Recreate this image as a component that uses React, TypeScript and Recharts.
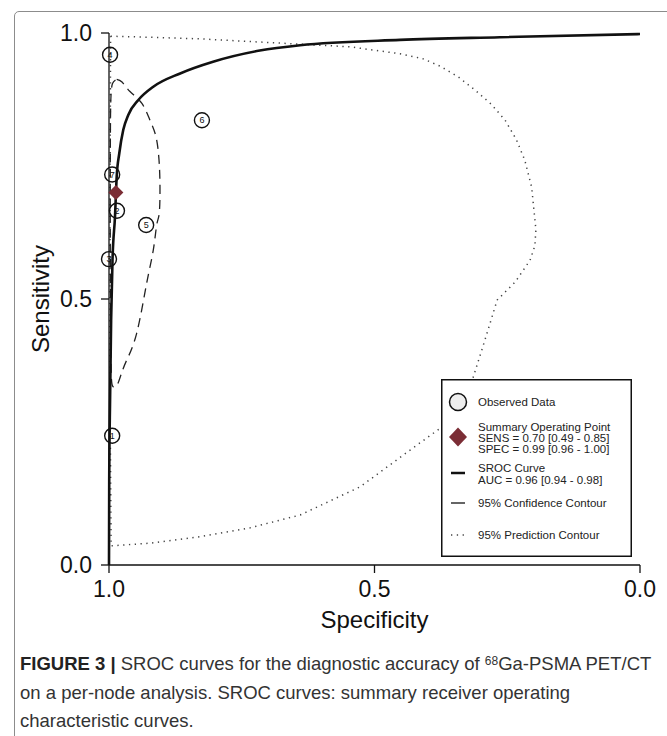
import React from 'react';
import { ComposedChart, XAxis, YAxis, Line, Scatter, Legend } from 'recharts';

const FONT = '"Liberation Sans", Arial, Helvetica, sans-serif';

// observed studies
const studyIds = [1, 2, 3, 4, 5, 6, 7];
const studySpec = [0.994, 0.985, 1.0, 0.998, 0.93, 0.825, 0.994];
const studySens = [0.243, 0.666, 0.575, 0.959, 0.639, 0.836, 0.734];

// summary operating point
const summarySpec = [0.987];
const summarySens = [0.7];

// SROC curve
const srocSpec = [1.0, 0.9996, 0.998, 0.996, 0.9934, 0.9887, 0.9855, 0.9806, 0.9731, 0.9637, 0.9448, 0.9166, 0.866, 0.804, 0.716, 0.64, 0.452, 0.264, 0.0];
const srocSens = [0.0, 0.16, 0.31, 0.46, 0.573, 0.655, 0.73, 0.774, 0.818, 0.846, 0.874, 0.899, 0.924, 0.946, 0.967, 0.977, 0.987, 0.992, 0.998];

// 95% confidence contour
const confSpec = [0.9855, 0.9755, 0.9605, 0.9384, 0.9228, 0.9115, 0.9058, 0.904, 0.9053, 0.91, 0.9166, 0.929, 0.9478, 0.9667, 0.9776, 0.9849, 0.9919, 0.9953, 0.9966, 0.9972, 0.9976, 0.9976, 0.9972, 0.9962, 0.9934, 0.9855];
const confSens = [0.913, 0.908, 0.89, 0.868, 0.836, 0.805, 0.761, 0.711, 0.662, 0.64, 0.592, 0.53, 0.436, 0.385, 0.357, 0.338, 0.335, 0.348, 0.404, 0.498, 0.611, 0.724, 0.836, 0.883, 0.905, 0.913];

// 95% prediction contour
const predSpec = [0.997, 0.923, 0.829, 0.716, 0.64, 0.546, 0.452, 0.41, 0.377, 0.343, 0.311, 0.28, 0.254, 0.233, 0.217, 0.204, 0.196, 0.198, 0.207, 0.235, 0.269, 0.292, 0.315, 0.335, 0.358, 0.375, 0.433, 0.527, 0.64, 0.734, 0.829, 0.923, 0.996, 0.998, 0.998, 0.997];
const predSens = [0.994, 0.992, 0.989, 0.983, 0.979, 0.974, 0.961, 0.952, 0.938, 0.918, 0.893, 0.866, 0.836, 0.8, 0.761, 0.71, 0.63, 0.6, 0.573, 0.532, 0.498, 0.423, 0.35, 0.31, 0.276, 0.258, 0.216, 0.147, 0.094, 0.07, 0.053, 0.041, 0.036, 0.31, 0.686, 0.994];

const axisTicks = [0, 0.5, 1];

const toPoints = (spec: number[], sens: number[]) => spec.map((s, i) => ({ spec: s, sens: sens[i] }));

const studies = studyIds.map((id, i) => ({ id, spec: studySpec[i], sens: studySens[i] }));
const summary = toPoints(summarySpec, summarySens);
const sroc = toPoints(srocSpec, srocSens);
const conf = toPoints(confSpec, confSens);
const pred = toPoints(predSpec, predSens);

const StudyDot = (props: any) => {
  const { cx, cy, payload } = props;
  return (
    <g>
      <circle cx={cx} cy={cy} r={7.5} fill="none" stroke="#111" strokeWidth={1.4} />
      <text x={cx} y={cy + 3.2} textAnchor="middle" fontSize={9} fontFamily={FONT} fill="#111">
        {payload.id}
      </text>
    </g>
  );
};

const Diamond = (props: any) => {
  const { cx, cy } = props;
  const w = 7.5;
  const h = 7.5;
  return <path d={`M${cx},${cy - h}L${cx + w},${cy}L${cx},${cy + h}L${cx - w},${cy}Z`} fill="#7b2d35" />;
};

const LegendBox = () => {
  const tx = 37;
  const t = { fontSize: 11.5, fontFamily: FONT, fill: '#222' };
  return (
    <svg width={191} height={178} style={{ display: 'block' }}>
      <rect x={0.75} y={0.75} width={189.5} height={176.5} fill="#fff" stroke="#111" strokeWidth={1.5} />
      <circle cx={17} cy={23} r={8.5} fill="#eee" stroke="#111" strokeWidth={1.5} />
      <text x={tx} y={27} {...t}>Observed Data</text>
      <path d="M17,48.5L26,58L17,67.5L8,58Z" fill="#7b2d35" />
      <text x={tx} y={51.5} {...t}>Summary Operating Point</text>
      <text x={tx} y={62.5} {...t}>SENS = 0.70 [0.49 - 0.85]</text>
      <text x={tx} y={73.5} {...t}>SPEC = 0.99 [0.96 - 1.00]</text>
      <line x1={10} x2={24} y1={94} y2={94} stroke="#111" strokeWidth={2.5} />
      <text x={tx} y={93} {...t}>SROC Curve</text>
      <text x={tx} y={104.5} {...t}>AUC = 0.96 [0.94 - 0.98]</text>
      <line x1={10} x2={24} y1={124} y2={124} stroke="#111" strokeWidth={1.3} />
      <text x={tx} y={128} {...t}>95% Confidence Contour</text>
      <line x1={10} x2={25} y1={156} y2={156} stroke="#444" strokeWidth={1.3} strokeDasharray="1.3 4.5" />
      <text x={tx} y={160} {...t}>95% Prediction Contour</text>
    </svg>
  );
};

const tickStyle = { fontSize: 23, fill: '#111', fontFamily: FONT };

export default function App() {
  return (
    <div style={{ position: 'absolute', left: 0, top: 0, width: 667, height: 736, overflow: 'hidden', background: '#fff' }}>
      <div
        style={{
          position: 'absolute',
          left: 14,
          top: 11,
          width: 680,
          height: 760,
          border: '1.5px solid #8c8c8c',
          borderRadius: 5,
          boxSizing: 'border-box',
        }}
      />
      <div style={{ position: 'absolute', left: 0, top: 0 }}>
        <ComposedChart width={667} height={640} margin={{ top: 33, right: 27, left: 0, bottom: 0 }}>
          <XAxis
            type="number"
            dataKey="spec"
            domain={[0, 1]}
            reversed
            ticks={axisTicks}
            tickFormatter={(v: number) => v.toFixed(1)}
            tickSize={8}
            tickMargin={8}
            height={75}
            axisLine={{ stroke: '#111', strokeWidth: 1.3 }}
            tickLine={{ stroke: '#111', strokeWidth: 1.3 }}
            tick={tickStyle}
            label={{ value: 'Specificity', position: 'insideBottom', offset: 12, fontSize: 24, fill: '#111', fontFamily: FONT }}
          />
          <YAxis
            type="number"
            dataKey="sens"
            domain={[0, 1]}
            ticks={axisTicks}
            tickFormatter={(v: number) => v.toFixed(1)}
            tickSize={8}
            tickMargin={9}
            width={109}
            axisLine={{ stroke: '#111', strokeWidth: 1.3 }}
            tickLine={{ stroke: '#111', strokeWidth: 1.3 }}
            tick={tickStyle}
            label={{
              value: 'Sensitivity',
              angle: -90,
              position: 'insideLeft',
              offset: 40,
              fontSize: 24,
              fill: '#111',
              fontFamily: FONT,
              style: { textAnchor: 'middle' },
            }}
          />
          <Line data={pred} dataKey="sens" type="linear" stroke="#444" strokeWidth={1.5} strokeDasharray="1.3 4.5" dot={false} activeDot={false} isAnimationActive={false} />
          <Line data={conf} dataKey="sens" type="natural" stroke="#222" strokeWidth={1.3} strokeDasharray="9 6" dot={false} activeDot={false} isAnimationActive={false} />
          <Line data={sroc} dataKey="sens" type="monotone" stroke="#111" strokeWidth={2.6} dot={false} activeDot={false} isAnimationActive={false} />
          <Scatter data={studies} dataKey="sens" shape={StudyDot} isAnimationActive={false} />
          <Scatter data={summary} dataKey="sens" shape={Diamond} isAnimationActive={false} />
          <Legend
            layout="vertical"
            align="center"
            verticalAlign="middle"
            content={() => <LegendBox />}
            wrapperStyle={{ left: 441, top: 379, width: 191, height: 178 }}
          />
        </ComposedChart>
      </div>
      <div
        style={{
          position: 'absolute',
          left: 20,
          top: 650,
          fontFamily: FONT,
          fontSize: 18.5,
          lineHeight: '28.5px',
          color: '#333',
          whiteSpace: 'nowrap',
        }}
      >
        <div>
          <b style={{ color: '#222' }}>FIGURE 3 |</b> SROC curves for the diagnostic accuracy of{' '}
          <sup style={{ fontSize: 12, verticalAlign: 'top', lineHeight: '22px' }}>68</sup>Ga-PSMA PET/CT
        </div>
        <div>on a per-node analysis. SROC curves: summary receiver operating</div>
        <div>characteristic curves.</div>
      </div>
    </div>
  );
}
